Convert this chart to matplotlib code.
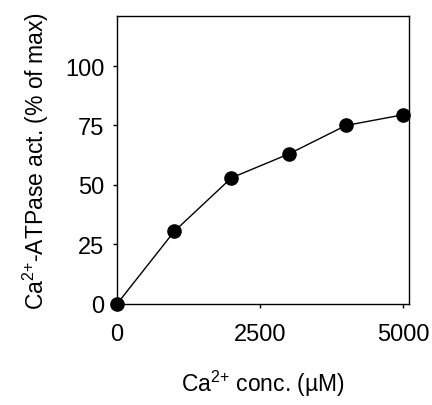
import matplotlib
matplotlib.use("Agg")
import matplotlib.pyplot as plt

plt.rcParams['font.family'] = ['Liberation Sans', 'DejaVu Sans']
plt.rcParams['mathtext.fontset'] = 'custom'
plt.rcParams['mathtext.rm'] = 'Liberation Sans'

# Ca2+ concentration (uM) and ATPase activity (% of max)
conc = [0, 1000, 2000, 3000, 4000, 5000]
activity = [0, 30.5, 53, 63, 75, 79.5]
xticks = [0, 2500, 5000]
yticks = [0, 25, 50, 75, 100]

fig = plt.figure(figsize=(4.32, 4.06), dpi=100)
ax = fig.add_axes([0.271, 0.249, 0.676, 0.709])

ax.plot(conc, activity, color='black', lw=1.0, marker='o', ms=9.5,
        clip_on=False, zorder=3)

ax.set_xlim(0, 5105)
ax.set_ylim(0, 121)
ax.set_xticks(xticks)
ax.set_yticks(yticks)
ax.tick_params(direction='out', length=3, width=1, labelsize=17)
ax.tick_params(axis='x', pad=11)
ax.tick_params(axis='y', pad=6)
for s in ax.spines.values():
    s.set_linewidth(1.0)

ax.set_xlabel('Ca$\\mathregular{^{2{+}}}$ conc. (\u00b5M)', fontsize=16.5, labelpad=16)
ax.set_ylabel('Ca$\\mathregular{^{2{+}}}$-ATPase act. (% of max)', fontsize=16.5, labelpad=10)

fig.savefig('out.png', dpi=100)
